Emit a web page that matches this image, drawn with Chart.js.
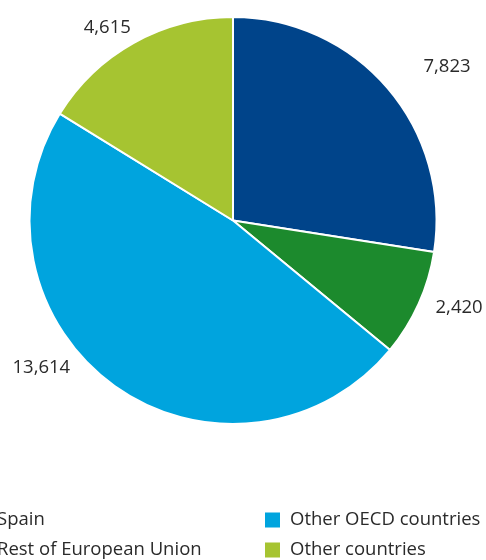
<!DOCTYPE html>
<html>
<head>
<meta charset="utf-8">
<script src="https://cdn.jsdelivr.net/npm/chart.js@4/dist/chart.umd.min.js"></script>
<style>
  html, body { margin: 0; padding: 0; background: #fff; overflow: hidden; }
  #wrap { position: relative; width: 486px; height: 560px; }
</style>
</head>
<body>
<div id="wrap"><canvas id="pie"></canvas></div>
<script>
var labels = ['Spain', 'Rest of European Union', 'Other OECD countries', 'Other countries'];
var values = [7823, 2420, 13614, 4615];
var colors = ['#00448a', '#1c8a2d', '#00a4de', '#a6c431'];

var FONT = '"Open Sans", "Noto Sans", sans-serif';

// value labels sit outside each slice, pushed off the rim along its mid angle
var labelNudge = [[29, 5], [4, -13], [-50, -51], [-7, 20]];

var outsideLabels = {
    id: 'outsideLabels',
    afterDatasetsDraw: function(chart) {
        var ctx = chart.ctx;
        var arcs = chart.getDatasetMeta(0).data;
        ctx.save();
        ctx.font = '18.5px ' + FONT;
        ctx.fillStyle = '#2a2a2a';
        ctx.textAlign = 'center';
        ctx.textBaseline = 'middle';
        arcs.forEach(function(a, i) {
            var mid = (a.startAngle + a.endAngle) / 2;
            var r = a.outerRadius + 40;
            var x = a.x + Math.cos(mid) * r + labelNudge[i][0];
            var y = a.y + Math.sin(mid) * r + labelNudge[i][1];
            ctx.fillText(values[i].toLocaleString('en-US'), x, y);
        });
        ctx.restore();
    }
};

// two-column legend under the pie, left column runs off the edge
var gridLegend = {
    id: 'gridLegend',
    afterDraw: function(chart) {
        var ctx = chart.ctx;
        var colX = [-28, 265];
        var rowY = [520, 550];
        ctx.save();
        ctx.font = '18.5px ' + FONT;
        ctx.textBaseline = 'middle';
        ctx.textAlign = 'left';
        labels.forEach(function(l, i) {
            var col = Math.floor(i / 2), row = i % 2;
            ctx.fillStyle = colors[i];
            ctx.fillRect(colX[col], rowY[row] - 7.5, 15, 15);
            ctx.fillStyle = '#2a2a2a';
            ctx.fillText(l, colX[col] + 25, rowY[row]);
        });
        ctx.restore();
    }
};

new Chart(document.getElementById('pie'), {
    type: 'pie',
    data: {
        labels: labels,
        datasets: [{
            data: values,
            backgroundColor: colors,
            borderColor: '#ffffff',
            borderWidth: 2
        }]
    },
    options: {
        responsive: true,
        maintainAspectRatio: false,
        animation: false,
        layout: { padding: { left: 28, right: 48, top: 16, bottom: 135 } },
        plugins: {
            legend: { display: false },
            tooltip: { enabled: false }
        }
    },
    plugins: [outsideLabels, gridLegend]
});
</script>
</body>
</html>
